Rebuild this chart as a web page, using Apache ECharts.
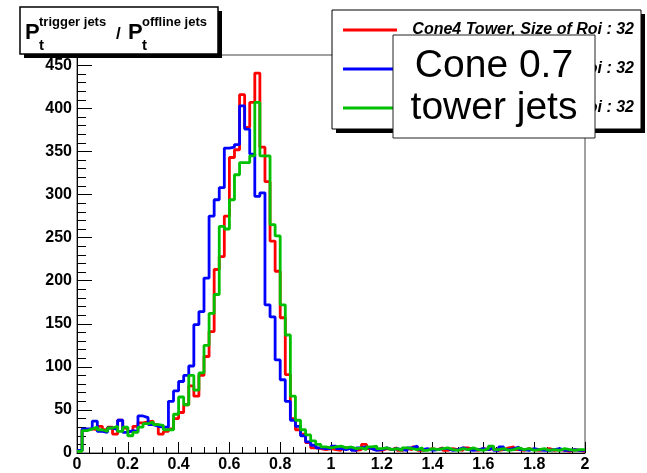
<!DOCTYPE html>
<html>
<head>
<meta charset="utf-8">
<script src="https://cdn.jsdelivr.net/npm/echarts@6/dist/echarts.min.js"></script>
<style>
  html, body { margin: 0; padding: 0; background: #fff; }
  #chart { width: 647px; height: 473px; }
</style>
</head>
<body>
<div id="chart"></div>
<script>
// histogram bins: 100 bins of 0.02 from 0 to 2
const binWidth = 0.02;
const xTicks = ['0', '0.2', '0.4', '0.6', '0.8', '1', '1.2', '1.4', '1.6', '1.8', '2'];
const yTicks = [0, 50, 100, 150, 200, 250, 300, 350, 400, 450];

const seriesNames = [
  'Cone4 Tower, Size of Roi : 32',
  'Cone7 Tower, Size of Roi : 32',
  'Cone4 Topo, Size of Roi : 32'
];

const redCounts = [
  3, 27, 28, 27, 31, 27, 30, 22, 38, 29,
  25, 31, 35, 36, 37, 33, 22, 25, 28, 40,
  47, 56, 78, 66, 90, 112, 141, 213, 228, 275,
  343, 352, 416, 378, 407, 441, 355, 315, 246, 211,
  157, 91, 40, 27, 22, 12, 6, 5, 4, 5,
  4, 3, 6, 5, 3, 4, 10, 5, 4, 3,
  5, 4, 6, 3, 5, 4, 7, 3, 4, 5,
  4, 6, 3, 5, 4, 3, 6, 4, 3, 5,
  4, 5, 3, 4, 6, 7, 4, 3, 5, 4,
  3, 4, 5, 3, 4, 3, 2, 4, 3, 2
];

const blueCounts = [
  3, 28, 28, 37, 25, 24, 29, 27, 38, 24,
  26, 25, 43, 41, 33, 31, 30, 30, 60, 72,
  83, 90, 101, 149, 164, 203, 275, 294, 308, 354,
  355, 358, 403, 376, 347, 298, 302, 172, 158, 108,
  85, 60, 38, 31, 20, 13, 9, 6, 5, 5,
  8, 5, 4, 6, 3, 6, 7, 5, 3, 4,
  6, 4, 5, 4, 3, 6, 8, 4, 5, 3,
  4, 5, 5, 3, 4, 6, 4, 3, 4, 5,
  4, 6, 3, 7, 4, 5, 7, 4, 3, 5,
  4, 3, 3, 4, 5, 3, 3, 4, 3, 3
];

const greenCounts = [
  2, 26, 28, 30, 27, 25, 29, 31, 25, 30,
  20, 24, 30, 34, 36, 33, 32, 27, 27, 45,
  65, 56, 90, 73, 93, 125, 162, 184, 263, 260,
  294, 323, 337, 337, 345, 407, 345, 345, 265, 252,
  172, 137, 66, 38, 27, 21, 14, 10, 7, 6,
  7, 8, 6, 7, 5, 6, 4, 7, 8, 5,
  6, 4, 5, 3, 6, 5, 4, 6, 3, 5,
  4, 5, 6, 4, 3, 5, 4, 6, 4, 3,
  5, 8, 4, 5, 3, 4, 6, 4, 5, 3,
  4, 5, 3, 4, 3, 5, 4, 3, 4, 4
];

const colors = ['#ff0000', '#0000ff', '#00c000'];

// bin left edges, plus a closing point at the upper edge
function toSteps(counts) {
  const pts = counts.map((v, i) => [+(i * binWidth).toFixed(2), v]);
  pts.push([+(counts.length * binWidth).toFixed(2), counts[counts.length - 1]]);
  return pts;
}

const chart = echarts.init(document.getElementById('chart'));

const labelFont = {
  color: '#000',
  fontFamily: 'Liberation Sans, Arial, sans-serif',
  fontWeight: 'bold',
  fontSize: 16
};

const option = {
  animation: false,
  backgroundColor: '#fff',
  grid: {
    left: 77,
    right: 62,
    top: 55,
    bottom: 20,
    show: true,
    borderColor: '#444',
    borderWidth: 1
  },
  xAxis: {
    type: 'value',
    min: 0,
    max: 2,
    interval: 0.2,
    axisLine: { onZero: false, lineStyle: { color: '#000', width: 1 } },
    axisTick: { inside: true, length: 11, lineStyle: { color: '#000' } },
    minorTick: { show: true, splitNumber: 4, length: 6, lineStyle: { color: '#000' } },
    splitLine: { show: false },
    axisLabel: Object.assign({
      margin: 4,
      formatter: v => xTicks[Math.round(v / 0.2)]
    }, labelFont)
  },
  yAxis: {
    type: 'value',
    min: 0,
    max: 462,
    interval: 50,
    axisLine: { show: true, lineStyle: { color: '#000', width: 1 } },
    axisTick: { inside: true, length: 15, lineStyle: { color: '#000' } },
    minorTick: { show: true, splitNumber: 5, length: 9, lineStyle: { color: '#000' } },
    splitLine: { show: false },
    axisLabel: Object.assign({
      margin: 5,
      showMaxLabel: false,
      formatter: v => (yTicks.indexOf(v) >= 0 ? String(v) : '')
    }, labelFont)
  },
  series: [redCounts, blueCounts, greenCounts].map((counts, k) => ({
    name: seriesNames[k],
    type: 'line',
    step: 'end',
    showSymbol: false,
    data: toSteps(counts),
    lineStyle: { color: colors[k], width: 2.8 },
    itemStyle: { color: colors[k] },
    z: 2 + k
  })),
  graphic: [
    // title box
    { type: 'rect', z: 100, shape: { x: 24, y: 11, width: 198, height: 47 }, style: { fill: '#000' } },
    { type: 'rect', z: 101, shape: { x: 20, y: 7, width: 198, height: 47 }, style: { fill: '#fff', stroke: '#000', lineWidth: 1.5 } },
    { type: 'text', z: 102, x: 25, y: 33, style: { text: 'P', font: 'bold 22px Liberation Sans', fill: '#000', textVerticalAlign: 'middle' } },
    { type: 'text', z: 102, x: 39, y: 46, style: { text: 't', font: 'bold 15px Liberation Sans', fill: '#000', textVerticalAlign: 'middle' } },
    { type: 'text', z: 102, x: 39, y: 22, style: { text: 'trigger jets', font: 'bold 13px Liberation Sans', fill: '#000', textVerticalAlign: 'middle' } },
    { type: 'text', z: 102, x: 116, y: 34, style: { text: '/', font: 'bold 17px Liberation Sans', fill: '#000', textVerticalAlign: 'middle' } },
    { type: 'text', z: 102, x: 128, y: 33, style: { text: 'P', font: 'bold 22px Liberation Sans', fill: '#000', textVerticalAlign: 'middle' } },
    { type: 'text', z: 102, x: 142, y: 46, style: { text: 't', font: 'bold 15px Liberation Sans', fill: '#000', textVerticalAlign: 'middle' } },
    { type: 'text', z: 102, x: 142, y: 22, style: { text: 'offline jets', font: 'bold 13px Liberation Sans', fill: '#000', textVerticalAlign: 'middle' } },

    // legend box
    { type: 'rect', z: 100, shape: { x: 336, y: 14, width: 309, height: 119 }, style: { fill: '#000' } },
    { type: 'rect', z: 101, shape: { x: 332, y: 10, width: 309, height: 119 }, style: { fill: '#fff', stroke: '#000', lineWidth: 1 } },
    ...[30, 69, 108].flatMap((yy, k) => [
      { type: 'line', z: 102, shape: { x1: 343, y1: yy, x2: 397, y2: yy }, style: { stroke: colors[k], lineWidth: 3 } },
      { type: 'text', z: 102, x: 634, y: yy, style: { text: seriesNames[k], font: 'italic bold 16px Liberation Sans', fill: '#000', textAlign: 'right', textVerticalAlign: 'middle' } }
    ]),

    // annotation box
    { type: 'rect', z: 110, shape: { x: 393, y: 35, width: 202, height: 103 }, style: { fill: '#fff', stroke: '#222', lineWidth: 1 } },
    { type: 'text', z: 111, x: 494, y: 66, style: { text: 'Cone 0.7', font: '39px Liberation Sans', fill: '#000', textAlign: 'center', textVerticalAlign: 'middle' } },
    { type: 'text', z: 111, x: 494, y: 108, style: { text: 'tower jets', font: '39px Liberation Sans', fill: '#000', textAlign: 'center', textVerticalAlign: 'middle' } }
  ]
};

chart.setOption(option);
window.addEventListener('resize', () => chart.resize());
</script>
</body>
</html>
